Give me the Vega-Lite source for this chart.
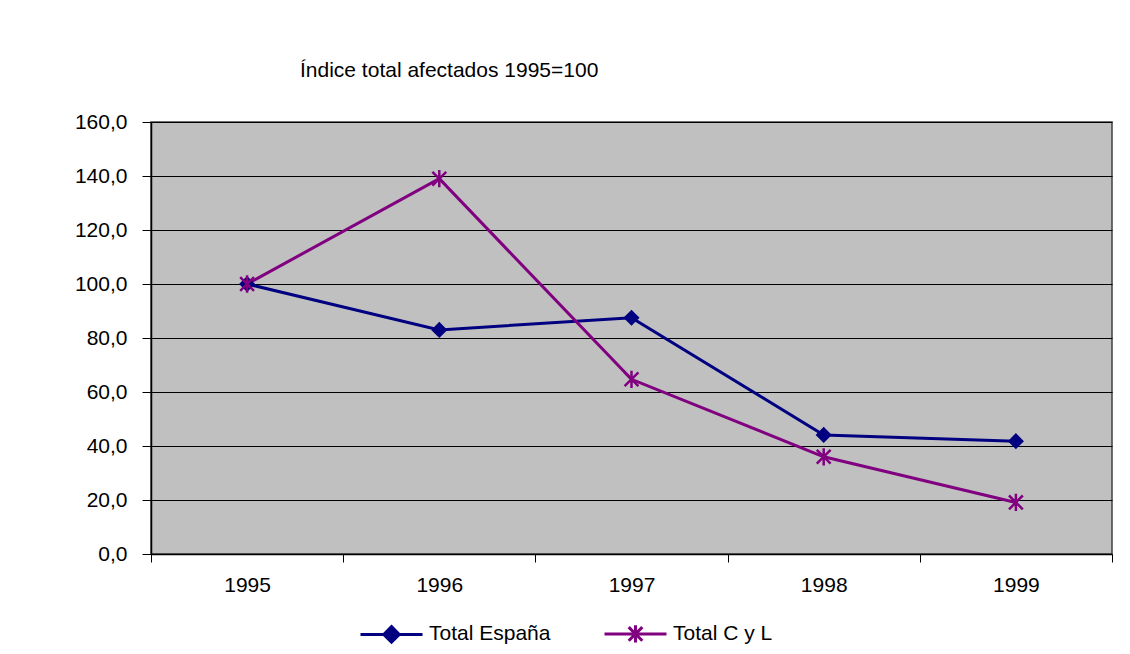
{
  "$schema": "https://vega.github.io/schema/vega-lite/v6.json",
  "width": 961,
  "height": 432,
  "autosize": {"type": "none"},
  "padding": {"left": 151, "top": 122, "right": 18, "bottom": 100},
  "background": "white",
  "config": {
    "view": {"fill": "#C0C0C0", "stroke": "#404040", "strokeWidth": 1.5},
    "font": "Liberation Sans"
  },
  "title": {
    "text": "Índice total afectados 1995=100",
    "anchor": "start",
    "frame": "group",
    "dx": 149,
    "offset": 30,
    "fontSize": 21,
    "fontWeight": "normal",
    "font": "Liberation Sans",
    "color": "black"
  },
  "data": {
    "values": [
      {"year": "1995", "series": "Total España", "value": 100},
      {"year": "1996", "series": "Total España", "value": 83.0},
      {"year": "1997", "series": "Total España", "value": 87.5},
      {"year": "1998", "series": "Total España", "value": 44.1},
      {"year": "1999", "series": "Total España", "value": 41.8},
      {"year": "1995", "series": "Total C y L", "value": 100},
      {"year": "1996", "series": "Total C y L", "value": 139.0},
      {"year": "1997", "series": "Total C y L", "value": 64.7},
      {"year": "1998", "series": "Total C y L", "value": 36.0},
      {"year": "1999", "series": "Total C y L", "value": 19.1}
    ]
  },
  "encoding": {
    "x": {
      "field": "year",
      "type": "ordinal",
      "bandPosition": 0.5,
      "scale": {"type": "band", "paddingInner": 0, "paddingOuter": 0},
      "axis": {
        "title": null,
        "labelAngle": 0,
        "tickBand": "extent",
        "tickSize": 8,
        "tickColor": "black",
        "domainColor": "black",
        "domainWidth": 1.5,
        "labelFontSize": 21,
        "labelColor": "black",
        "labelPadding": 12,
        "grid": false
      }
    },
    "y": {
      "field": "value",
      "type": "quantitative",
      "scale": {"domain": [0, 160], "nice": false},
      "axis": {
        "title": null,
        "values": [0, 20, 40, 60, 80, 100, 120, 140, 160],
        "labelExpr": "replace(format(datum.value, '.1f'), '.', ',')",
        "grid": true,
        "gridColor": "black",
        "gridOpacity": 1,
        "gridWidth": 1,
        "tickSize": 9,
        "tickColor": "black",
        "domainColor": "black",
        "domainWidth": 1.5,
        "labelFontSize": 21,
        "labelColor": "black",
        "labelPadding": 15
      }
    },
    "color": {
      "field": "series",
      "type": "nominal",
      "sort": ["Total España", "Total C y L"],
      "scale": {"domain": ["Total España", "Total C y L"], "range": ["#000080", "#800080"]},
      "legend": {
        "title": null,
        "orient": "none",
        "direction": "horizontal",
        "legendX": 208,
        "legendY": 479,
        "symbolSize": 3844,
        "symbolStrokeWidth": 3,
        "labelOffset": 5,
        "labelFontSize": 21,
        "labelColor": "black",
        "columnPadding": 47,
        "encode": {
          "symbols": {
            "update": {
              "shape": {"signal": "datum.value === 'Total España' ? 'M-1,0L1,0M0,-0.25L0.25,0L0,0.25L-0.25,0Z' : 'M-1,0L1,0M-0.22,-0.22L0.22,0.22M-0.22,0.22L0.22,-0.22M0,-0.28L0,0.28'"},
              "fill": {"signal": "datum.value === 'Total España' ? '#000080' : 'transparent'"},
              "strokeWidth": {"value": 3}
            }
          }
        }
      }
    }
  },
  "layer": [
    {"mark": {"type": "line", "strokeWidth": 3}},
    {
      "transform": [{"filter": "datum.series === 'Total España'"}],
      "mark": {"type": "point", "shape": "diamond", "filled": true, "size": 260, "opacity": 1}
    },
    {
      "transform": [{"filter": "datum.series === 'Total C y L'"}],
      "mark": {"type": "point", "shape": "M-0.8,-0.8L0.8,0.8M-0.8,0.8L0.8,-0.8M0,-1L0,1", "filled": false, "size": 300, "strokeWidth": 2.5, "opacity": 1}
    }
  ]
}
